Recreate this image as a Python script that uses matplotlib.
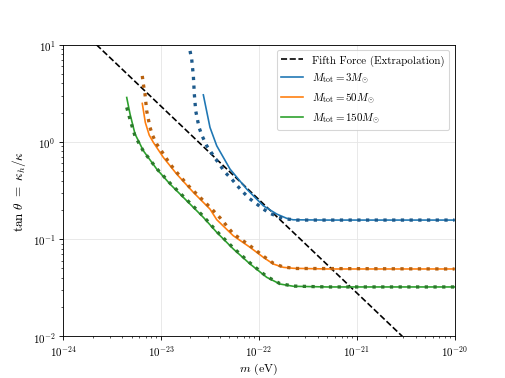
import numpy as np
import matplotlib
matplotlib.use('Agg')
import matplotlib.pyplot as plt

plt.rcParams['font.family'] = 'serif'
plt.rcParams['font.serif'] = ['cmr10']
plt.rcParams['mathtext.fontset'] = 'cm'
plt.rcParams['axes.formatter.use_mathtext'] = True

# Fifth force extrapolation (end points)
m_ff = [2.19e-24, 2.93e-21]
t_ff = [10.0, 0.01]

# log10 values
# M_tot = 3 Msun
lm_3 = [-22.567, -22.499, -22.430, -22.294, -22.124, -21.954, -21.817, -21.715, -21.650, -21.3, -20.0]
lt_3 = [0.484, 0.149, -0.040, -0.280, -0.485, -0.657, -0.742, -0.786, -0.801, -0.804, -0.804]
lm_3_dot = [-22.703, -22.686, -22.669, -22.659, -22.645, -22.611, -22.577, -22.532, -22.440, -22.345,
            -22.277, -22.220, -22.158, -22.097, -22.021, -21.954, -21.886, -21.784, -21.715, -21.613, -20.0]
lt_3_dot = [0.936, 0.851, 0.679, 0.491, 0.320, 0.149, 0.057, -0.040, -0.177, -0.313,
            -0.382, -0.451, -0.519, -0.581, -0.639, -0.691, -0.735, -0.776, -0.793, -0.804, -0.804]

# M_tot = 50 Msun
lm_50 = [-23.191, -23.160, -23.120, -23.078, -22.976, -22.839, -22.669, -22.499, -22.430, -22.261,
         -22.090, -21.954, -21.852, -21.750, -21.647, -21.3, -20.0]
lt_50 = [0.396, 0.200, 0.070, -0.005, -0.159, -0.331, -0.519, -0.691, -0.800, -0.965,
         -1.084, -1.187, -1.256, -1.290, -1.300, -1.307, -1.307]
lm_50_dot = [-23.191, -23.180, -23.163, -23.146, -23.129, -23.112, -23.084, -23.043, -22.992, -22.907,
             -22.839, -22.720, -22.601, -22.481, -22.397, -22.261, -22.090, -21.954, -21.852, -21.750,
             -21.613, -20.0]
lt_50_dot = [0.679, 0.594, 0.491, 0.320, 0.234, 0.149, 0.063, -0.023, -0.098, -0.228,
             -0.313, -0.451, -0.570, -0.690, -0.780, -0.945, -1.068, -1.175, -1.248, -1.287,
             -1.302, -1.307]

# M_tot = 150 Msun
lm_150 = [-23.350, -23.316, -23.265, -23.180, -23.043, -22.907, -22.737, -22.567, -22.430, -22.261,
          -22.090, -21.919, -21.783, -21.647, -21.3, -20.0]
lt_150 = [0.457, 0.286, 0.081, -0.091, -0.280, -0.434, -0.605, -0.776, -0.930, -1.101,
          -1.255, -1.393, -1.462, -1.485, -1.492, -1.492]
lm_150_dot = [-23.350, -23.316, -23.265, -23.180, -23.043, -22.907, -22.737, -22.567, -22.430, -22.261,
              -22.090, -21.919, -21.783, -21.647, -21.3, -20.0]
lt_150_dot = [0.355, 0.230, 0.060, -0.095, -0.275, -0.425, -0.595, -0.765, -0.920, -1.090,
              -1.245, -1.385, -1.458, -1.483, -1.492, -1.492]


def pw(a):
    return 10.0 ** np.array(a)


fig, ax = plt.subplots(figsize=(6.4, 4.8), dpi=505 / 6.4)

ax.plot(m_ff, t_ff, 'k--', lw=1.5, label='Fifth Force (Extrapolation)')
ax.plot(pw(lm_3), pw(lt_3), color='#1f77b4', lw=1.5, label=r'$M_{\rm tot}=3M_{\odot}$')
ax.plot(pw(lm_50), pw(lt_50), color='#ff7f0e', lw=1.5, label=r'$M_{\rm tot}=50M_{\odot}$')
ax.plot(pw(lm_150), pw(lt_150), color='#2ca02c', lw=1.5, label=r'$M_{\rm tot}=150M_{\odot}$')

ax.plot(pw(lm_3_dot), pw(lt_3_dot), ':', color='#1d5a8c', lw=3)
ax.plot(pw(lm_50_dot), pw(lt_50_dot), ':', color='#b8610f', lw=3)
ax.plot(pw(lm_150_dot), pw(lt_150_dot), ':', color='#2a7a2a', lw=3)

ax.set_xscale('log')
ax.set_yscale('log')
ax.set_xlim(1e-24, 1e-20)
ax.set_ylim(1e-2, 1e1)
ax.grid(True, which='major', color='#e6e6e6', lw=0.8)
ax.set_xlabel(r'$m$ (eV)', fontsize=11, labelpad=2)
ax.set_ylabel(r'$\tan\,\theta\ =\ \kappa_h/\kappa$', fontsize=12)
ax.legend(loc='upper right')

plt.savefig('out.png', dpi=505 / 6.4)
